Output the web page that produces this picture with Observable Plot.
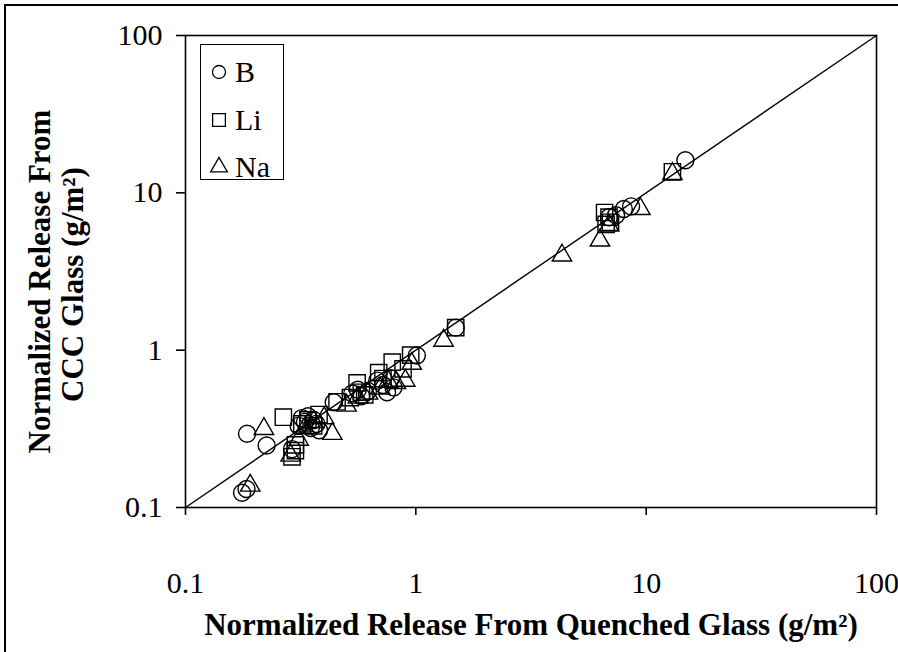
<!DOCTYPE html>
<html>
<head>
<meta charset="utf-8">
<script src="https://cdn.jsdelivr.net/npm/d3@7"></script>
<script src="https://cdn.jsdelivr.net/npm/@observablehq/plot@0.6"></script>
<style>
  html, body { margin: 0; padding: 0; background: #fff; }
  #wrap { position: relative; width: 898px; height: 652px; overflow: hidden; }
  #frame { position: absolute; left: 4px; top: 4px; width: 900px; height: 660px;
           border-left: 2px solid #000; border-top: 2px solid #000; pointer-events: none; }
  #legend { position: absolute; left: 200px; top: 44px; width: 82px; height: 134px;
            border: 1.5px solid #000; background: #fff; font-family: "Liberation Serif", serif;
            font-size: 30px; color: #000; }
  .item { position: absolute; left: 8px; height: 32px; display: flex; align-items: center; }
  .item svg { margin-right: 6px; }
</style>
</head>
<body>
<div id="wrap"></div>
<script>
// ---- data ----
const seriesNames = ["B", "Li", "Na"];
const B_x  = [0.176,0.184,0.185,0.225,0.29,0.31,0.32,0.33,0.34,0.35,0.36,0.37,0.38,0.44,0.53,0.56,0.58,0.62,0.68,0.72,0.75,0.78,0.80,1.01,1.49,6.9,7.4,8.0,8.6,14.8];
const B_y  = [0.124,0.131,0.294,0.248,0.235,0.33,0.37,0.35,0.38,0.32,0.36,0.34,0.31,0.466,0.53,0.56,0.51,0.55,0.64,0.60,0.54,0.66,0.58,0.925,1.39,7.0,7.2,7.9,8.2,16.1];
const Li_x = [0.266,0.29,0.30,0.30,0.32,0.34,0.36,0.38,0.455,0.52,0.556,0.58,0.60,0.69,0.72,0.79,0.88,0.95,1.49,6.6,6.9,7.0,6.7,13.0];
const Li_y = [0.375,0.21,0.23,0.25,0.34,0.36,0.33,0.39,0.47,0.50,0.62,0.54,0.52,0.72,0.66,0.84,0.76,0.93,1.39,7.5,7.0,6.5,6.3,13.6];
const Na_x = [0.191,0.219,0.286,0.31,0.33,0.36,0.40,0.434,0.50,0.56,0.62,0.70,0.76,0.82,0.90,0.96,1.32,4.31,6.3,6.9,9.44,13.0];
const Na_y = [0.138,0.316,0.214,0.27,0.32,0.35,0.37,0.294,0.445,0.50,0.53,0.57,0.63,0.62,0.64,0.82,1.15,4.0,4.98,6.2,7.9,13.2];
const axisTicks = [0.1, 1, 10, 100];
const diagonal = [0.1, 100];
const xTitle = "Normalized Release From Quenched Glass (g/m²)";
const yTitle1 = "Normalized Release From";
const yTitle2 = "CCC Glass (g/m²)";

const toRows = (xs, ys, s) => xs.map((x, i) => ({x, y: ys[i], s}));
const bRows = toRows(B_x, B_y, "B");
const liRows = toRows(Li_x, Li_y, "Li");
const naRows = toRows(Na_x, Na_y, "Na");

const fmt = d => String(d);
const font = "Liberation Serif, Times New Roman, serif";

const chart = Plot.plot({
  width: 898,
  height: 652,
  marginLeft: 185,
  marginRight: 22,
  marginTop: 35,
  marginBottom: 145,
  style: { fontFamily: font, fontSize: "30px", color: "#000", background: "transparent" },
  x: { type: "log", domain: [0.1, 100] },
  y: { type: "log", domain: [0.1, 100] },
  marks: [
    Plot.frame({ stroke: "#000", strokeWidth: 1.6 }),
    Plot.line(diagonal, { x: d => d, y: d => d, stroke: "#000", strokeWidth: 1.4 }),
    Plot.axisX({ ticks: axisTicks, tickFormat: fmt, tickSize: 8, tickPadding: 56, strokeWidth: 1.6, fontSize: 30, label: null }),
    Plot.axisY({ ticks: axisTicks, tickFormat: fmt, tickSize: 9, tickPadding: 14, strokeWidth: 1.6, fontSize: 30, label: null }),
    Plot.dot(naRows, { x: "x", y: "y", symbol: "triangle", r: 7.2, stroke: "#000", strokeWidth: 1.4, fill: "none" }),
    Plot.dot(liRows, { x: "x", y: "y", symbol: "square", r: 9.2, stroke: "#000", strokeWidth: 1.4, fill: "none" }),
    Plot.dot(bRows, { x: "x", y: "y", symbol: "circle", r: 8.5, stroke: "#000", strokeWidth: 1.4, fill: "none" }),
    Plot.text([xTitle], { frameAnchor: "bottom", text: d => d, textAnchor: "middle", lineAnchor: "middle", dx: 0, dy: 118, fontWeight: "bold", fontSize: 31, fill: "#000" }),
    Plot.text([yTitle1], { frameAnchor: "left", text: d => d, textAnchor: "middle", lineAnchor: "middle", rotate: -90, dx: -145, dy: 10, fontWeight: "bold", fontSize: 31, fill: "#000" }),
    Plot.text([yTitle2], { frameAnchor: "left", text: d => d, textAnchor: "middle", lineAnchor: "middle", rotate: -90, dx: -112, dy: 13, fontWeight: "bold", fontSize: 31, fill: "#000" })
  ]
});

const wrap = document.getElementById("wrap");
wrap.appendChild(chart);

// outer border
const frame = document.createElement("div");
frame.id = "frame";
wrap.appendChild(frame);

// legend
const legend = document.createElement("div");
legend.id = "legend";
const symPaths = {
  B: d3.symbol(d3.symbolCircle, Math.PI * 6.5 * 6.5)(),
  Li: d3.symbol(d3.symbolSquare, Math.PI * 7.2 * 7.2)(),
  Na: d3.symbol(d3.symbolTriangle, Math.PI * 6.2 * 6.2)()
};
const tops = [11, 59, 106];
seriesNames.forEach((name, i) => {
  const it = document.createElement("div");
  it.className = "item";
  it.style.top = tops[i] + "px";
  it.innerHTML = `<svg width="20" height="22" viewBox="-10 -11 20 22"><path d="${symPaths[name]}" fill="none" stroke="#000" stroke-width="1.3"/></svg><span>${name}</span>`;
  legend.appendChild(it);
});
wrap.appendChild(legend);
</script>
</body>
</html>
